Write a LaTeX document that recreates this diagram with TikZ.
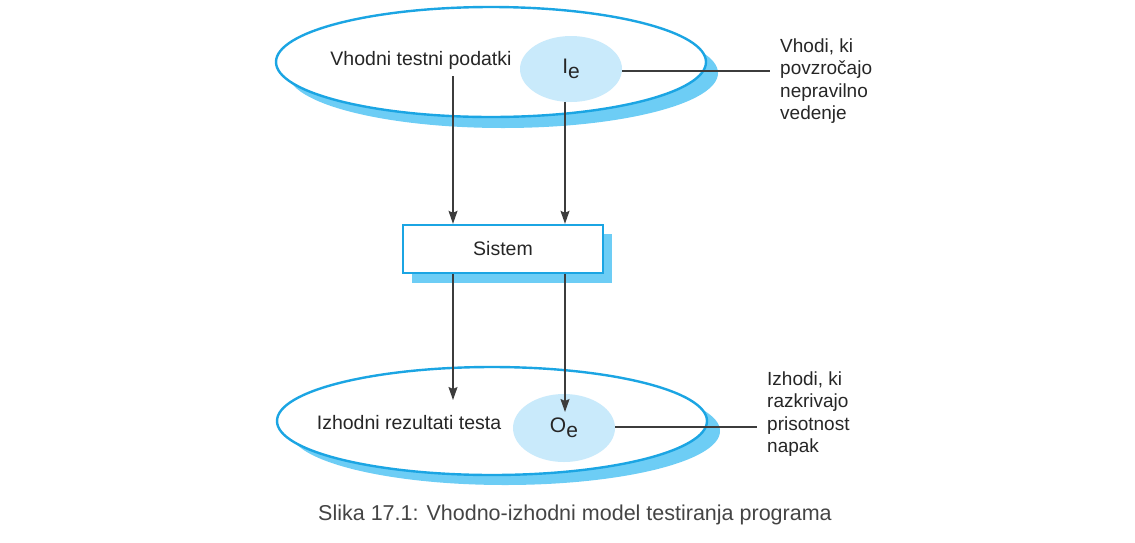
\documentclass[tikz,border=0pt]{standalone}
\usepackage{fontspec}
\setmainfont{Liberation Sans}
\usetikzlibrary{shapes.geometric,arrows.meta}
\definecolor{edgeblue}{HTML}{1BA5E3}
\definecolor{shadowblue}{HTML}{6DCDF5}
\definecolor{innerblue}{HTML}{C9EAFB}
\definecolor{linegrey}{HTML}{3C3C3C}
\definecolor{captiongrey}{HTML}{444444}
\tikzset{
  bigell/.style={ellipse,draw=edgeblue,line width=2.4pt,fill=white,minimum width=430pt,minimum height=110pt,inner sep=0pt},
  smallell/.style={ellipse,fill=innerblue,minimum width=102pt,minimum height=66pt,inner sep=0pt,font=\fontsize{21}{24}\selectfont,text=black!85},
  sysbox/.style={rectangle,draw=edgeblue,line width=2.4pt,fill=white,minimum width=200pt,minimum height=48pt,inner sep=0pt,font=\fontsize{19.5}{22}\selectfont,text=black!85},
  lbl/.style={font=\fontsize{19.5}{22}\selectfont,text=black!85,inner sep=0pt},
  side/.style={font=\fontsize{19}{22.5}\selectfont,text=black!85,align=left,inner sep=0pt,anchor=west},
  arr/.style={draw=linegrey,line width=1.4pt,-{Stealth[length=13pt,width=9pt,inset=2pt]}},
  conn/.style={draw=linegrey,line width=1.4pt},
}
\begin{document}
\begin{tikzpicture}[x=1pt,y=-1pt]
\useasboundingbox (0,0) rectangle (1135,542);
% shadows
\fill[shadowblue] (503,73) ellipse [x radius=215,y radius=55];
\fill[shadowblue] (505,431) ellipse [x radius=215,y radius=54];
\fill[shadowblue] (412,234) rectangle (612,283);
% top ellipse
\node[bigell] (top) at (491,62) {};
\node[smallell] (ie) at (571,69) {I\raisebox{-5pt}{e}};
\node[lbl] (intext) at (421,60) {Vhodni testni podatki};
% system
\node[sysbox] (sys) at (503,249) {Sistem};
% bottom ellipse
\node[bigell, minimum height=108pt] (bot) at (492,421) {};
\node[smallell, minimum height=68pt] (oe) at (564,428) {O\raisebox{-5pt}{e}};
\node[lbl] (outtext) at (409,423) {Izhodni rezultati testa};
% side labels
\node[side] (inlab) at (780,81) {Vhodi, ki\\povzročajo\\nepravilno\\vedenje};
\node[side] (outlab) at (767,414) {Izhodi, ki\\razkrivajo\\prisotnost\\napak};
% connectors
\coordinate (a1) at (453,76);
\coordinate (b1) at (453,400);
\coordinate (b2) at (565,412);
\draw[arr] (a1) -- (a1 |- sys.north);
\draw[arr] (ie.south -| 565,0) -- (sys.north -| 565,0);
\draw[arr] (sys.south -| a1) -- (b1);
\draw[arr] (sys.south -| b2) -- (b2);
\coordinate (c1) at (770,71);
\coordinate (c2) at (757,427);
\draw[conn] (ie.east |- c1) -- (c1);
\draw[conn] (oe.east |- c2) -- (c2);
% caption
\node[font=\fontsize{21.5}{24}\selectfont,text=captiongrey] (cap) at (575,515) {Slika 17.1: Vhodno-izhodni model testiranja programa};
\end{tikzpicture}
\end{document}
